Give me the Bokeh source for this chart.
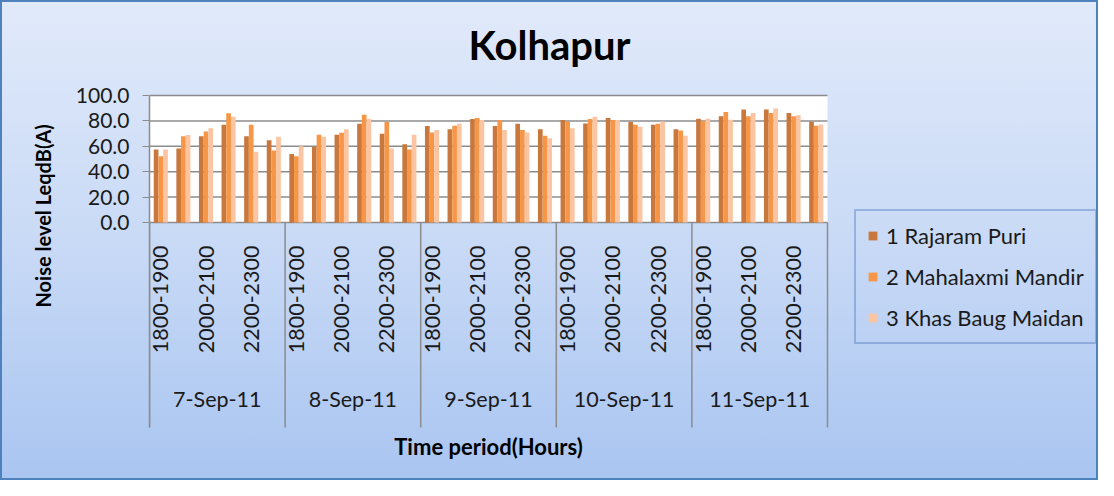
import math
import numpy as np
from bokeh.plotting import figure
from bokeh.models import (ColumnDataSource, FixedTicker, Legend, Title, Label, BoxAnnotation,
                          LegendItem, NumeralTickFormatter, Range1d, InlineStyleSheet)
from bokeh.core.properties import value
from bokeh.transform import dodge
from bokeh.embed import file_html
from bokeh.resources import INLINE

# ---------------- data ----------------
dates = ["7-Sep-11", "8-Sep-11", "9-Sep-11", "10-Sep-11", "11-Sep-11"]
periods = ["1800-1900", "1900-2000", "2000-2100", "2100-2200", "2200-2300", "2300-2400"]
series_names = ["1 Rajaram Puri", "2 Mahalaxmi Mandir", "3 Khas Baug Maidan"]

rajaram_puri = [57.4, 58.2, 68.0, 77.0, 68.0, 64.8,
                54.0, 59.5, 69.0, 77.8, 69.8, 61.6,
                75.9, 73.5, 81.5, 75.9, 77.8, 73.5,
                80.7, 78.0, 82.3, 79.1, 77.0, 73.5,
                81.7, 83.6, 88.9, 88.9, 86.2, 79.4]
mahalaxmi_mandir = [52.1, 68.0, 71.7, 86.0, 77.0, 56.6,
                    52.1, 69.0, 70.6, 84.9, 79.1, 57.4,
                    70.9, 76.2, 82.3, 80.7, 72.8, 68.3,
                    79.6, 81.5, 80.7, 77.0, 77.8, 72.5,
                    79.9, 87.0, 83.6, 86.2, 83.6, 76.2]
khas_baug_maidan = [57.4, 68.8, 74.3, 83.3, 55.8, 67.5,
                    60.1, 67.5, 73.5, 81.7, 58.2, 69.0,
                    72.8, 77.8, 80.7, 72.8, 70.9, 66.4,
                    74.3, 83.3, 80.7, 75.4, 79.6, 68.3,
                    81.7, 81.0, 86.2, 89.7, 84.4, 77.2]
y_ticks = [0, 20, 40, 60, 80, 100]
y_min, y_max = 0, 100

colors = ["#C8783C", "#F79646", "#FBC4A2"]
FONT = "Lato"
GRID = "#8C8C8C"
TXT = "#1a1a1a"

# ---------------- layout (pixels) ----------------
W, H = 1098, 480
FL, FR, FT, FB = 149, 1096, 2, 472          # frame edges in figure pixels
PLOT_W = 678                                 # width of the bar area
PLOT_TOP, PLOT_BOT = 95, 222                 # bar area top / bottom (figure px)
SEP_BOT = 427                                # separators end (figure px)

n_p = len(periods)
n_d = len(dates)
n = n_d * n_p
ppx = PLOT_W / n                             # pixels per category
ppy = (PLOT_BOT - PLOT_TOP) / (y_max - y_min)  # pixels per unit


def ydata(fig_px):
    return y_min + (PLOT_BOT - fig_px) / ppy


x_lo = -0.5
x_hi = x_lo + (FR - FL) / ppx
y_lo = ydata(FB)
y_hi = ydata(FT)

x = np.arange(n)
src = ColumnDataSource(dict(x=x, r=rajaram_puri, m=mahalaxmi_mandir, k=khas_baug_maidan))

p = figure(width=W, height=H, output_backend="svg", toolbar_location=None, title=None,
           x_range=Range1d(x_lo, x_hi), y_range=Range1d(y_lo, y_hi),
           x_axis_type=None,
           min_border_left=FL, min_border_right=W - FR, min_border_top=FT, min_border_bottom=H - FB)
p.background_fill_color = None
p.border_fill_color = None
p.outline_line_color = None
p.stylesheets = [InlineStyleSheet(css=":host { background: linear-gradient(to bottom, #E1EAFA 0%, #C9DAF6 50%, #A9C5F1 100%); outline: 2px solid #4F81BD; outline-offset: -2px; }")]
p.ygrid.visible = False

# white plot area
p.add_layout(BoxAnnotation(left=-0.5, right=n - 0.5, bottom=y_min, top=y_max,
                           fill_color="white", fill_alpha=1, line_color=None, level="underlay"))

# grid lines
p.segment(x0=[-0.5] * len(y_ticks), x1=[n - 0.5] * len(y_ticks), y0=y_ticks, y1=y_ticks,
          line_color=GRID, line_width=1.5)

# day separators
sep = [d * n_p - 0.5 for d in range(n_d + 1)]
y_sep = ydata(SEP_BOT)
p.segment(x0=sep, x1=sep, y0=[y_min] * len(sep), y1=[y_sep] * len(sep),
          line_color=GRID, line_width=1.5)

# bars
w = 0.208
renderers = []
for off, col, c in zip([-w, 0, w], ["r", "m", "k"], colors):
    r = p.vbar(x=dodge("x", off), top=col, width=w, source=src,
               fill_color=c, line_color=None)
    renderers.append(r)

# y axis
yax = p.yaxis[0]
yax.ticker = FixedTicker(ticks=y_ticks)
yax.bounds = (y_sep, y_max)
yax.formatter = NumeralTickFormatter(format="0.0")
yax.major_tick_out = 7
yax.major_tick_in = 0
yax.minor_tick_out = 0
yax.minor_tick_in = 0
yax.axis_line_color = GRID
yax.axis_line_width = 1.5
yax.major_tick_line_color = GRID
yax.major_label_text_font = FONT
yax.major_label_text_font_size = "21px"
yax.major_label_text_color = TXT
yax.major_label_standoff = 13

# y axis title
p.add_layout(Title(text="Noise level LeqdB(A)", align="left", offset=(FB + 8) - 315, standoff=36,
                   text_font=FONT, text_font_size="20px", text_font_style="bold",
                   text_color="black"), "left")

# period labels (every second period)
label_ticks = [d * n_p + i for d in range(n_d) for i in range(0, n_p, 2)]
p.text(x=label_ticks, y=[ydata(245)] * len(label_ticks),
       text=[periods[t % n_p] for t in label_ticks], angle=math.pi / 2,
       text_align="right", text_baseline="middle",
       text_font=value(FONT), text_font_size="21.5px", text_color=TXT)

# date labels
day_ticks = [d * n_p + (n_p - 1) / 2 for d in range(n_d)]
p.text(x=day_ticks, y=[ydata(398)] * n_d, text=dates,
       text_align="center", text_baseline="middle",
       text_font=value(FONT), text_font_size="21.5px", text_color=TXT)

# x axis title
p.add_layout(Label(x=(n - 1) / 2, y=ydata(446), text="Time period(Hours)",
                   text_font=FONT, text_font_size="22px", text_font_style="bold",
                   text_align="center", text_baseline="middle", text_color="black"))

# chart title
p.add_layout(Label(x=(W / 2 - FL), y=FB - 44, x_units="screen", y_units="screen",
                   text="Kolhapur", text_font=FONT, text_font_size="40px", text_font_style="bold",
                   text_align="center", text_baseline="middle", text_color="black"))

legend = Legend(items=[LegendItem(label=nm, renderers=[r]) for nm, r in zip(series_names, renderers)],
                location=(854 - FL, FB - 344), orientation="vertical", margin=0,
                padding=11, spacing=14, label_height=26, glyph_height=11, glyph_width=11,
                label_standoff=8, label_text_font=FONT, label_text_font_size="22px",
                label_text_color=TXT,
                border_line_color="#5F88C6", border_line_width=2,
                background_fill_alpha=0)
p.add_layout(legend)

open("out.html", "w").write(file_html(p, INLINE))
